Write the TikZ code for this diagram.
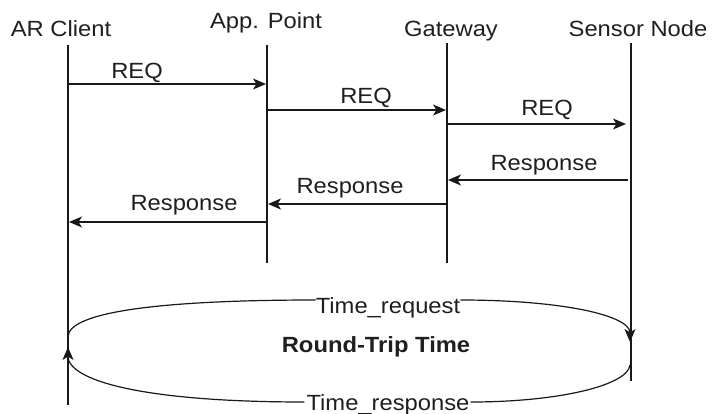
\documentclass[tikz,border=0pt]{standalone}
\usepackage{fontspec}
\setmainfont[FakeStretch=1.08]{Liberation Sans}
\usetikzlibrary{arrows.meta,calc}
\begin{document}
\begin{tikzpicture}[x=1pt,y=-1pt,
  lbl/.style={font=\fontsize{22}{26}\selectfont, text=black!88, inner sep=0pt, anchor=base},
  life/.style={line width=1.4pt, black!90},
  tip/.style={-{Stealth[length=13pt,width=11pt,inset=3.5pt]}},
  msg/.style={line width=1.4pt, black!90, tip},
  loop/.style={line width=1.2pt, black!90},
]
\useasboundingbox (0,0) rectangle (712,414);
\fill[white] (0,0) rectangle (712,414);

% participants
\node[lbl] (ar) at (61,37) {AR Client};
\node[lbl] (ap) at (266,29) {App. Point};
\node[lbl] (gw) at (451,37) {Gateway};
\node[lbl] (sn) at (638,37) {Sensor Node};

% lifelines
\coordinate (arT) at (68,45);  \coordinate (arB) at (68,405);
\coordinate (apT) at (267,45); \coordinate (apB) at (267,263);
\coordinate (gwT) at (447,43); \coordinate (gwB) at (447,263);
\coordinate (snT) at (631,43); \coordinate (snB) at (631,381);
\draw[life] (arT) -- (arB);
\draw[life] (apT) -- (apB);
\draw[life] (gwT) -- (gwB);
\draw[life] (snT) -- (snB);

% requests
\coordinate (q1a) at (68,84);   \coordinate (q1b) at (266,84);
\coordinate (q2a) at (267,110); \coordinate (q2b) at (446,110);
\coordinate (q3a) at (447,124); \coordinate (q3b) at (626,124);
\draw[msg] (q1a) -- (q1b);
\draw[msg] (q2a) -- (q2b);
\draw[msg] (q3a) -- (q3b);
\node[lbl] (lq1) at (137,79) {REQ};
\node[lbl] (lq2) at (366,104) {REQ};
\node[lbl] (lq3) at (547,116) {REQ};

% responses
\coordinate (r1a) at (628,180); \coordinate (r1b) at (448,180);
\coordinate (r2a) at (447,204); \coordinate (r2b) at (268,204);
\coordinate (r3a) at (267,222); \coordinate (r3b) at (69,222);
\draw[msg] (r1a) -- (r1b);
\draw[msg] (r2a) -- (r2b);
\draw[msg] (r3a) -- (r3b);
\node[lbl] (lr1) at (544,171) {Response};
\node[lbl] (lr2) at (350,194) {Response};
\node[lbl] (lr3) at (184,211) {Response};

% round-trip loop
\node[lbl] (treq) at (388,313) {Time\_request};
\node[lbl, font=\fontsize{22}{26}\selectfont\bfseries] (rtt) at (376,352) {Round-Trip Time};
\node[lbl] (tres) at (388,410) {Time\_response};

\coordinate (ul) at (68,337);
\coordinate (ur) at (630,342);
\coordinate (lr) at (630,365);
\coordinate (ll) at (68,347);
\coordinate (tqw) at ($(treq.base west)+(0,-13)$);
\coordinate (tqe) at ($(treq.base east)+(0,-13)$);
\coordinate (trw) at ($(tres.base west)+(-2,-8)$);
\coordinate (tre) at ($(tres.base east)+(1,-8)$);

\draw[loop] (ul) .. controls (68,312) and (160,300) .. (tqw);
\draw[loop, tip] (tqe) .. controls (560,300) and (630,315) .. (ur);
\draw[loop] (lr) .. controls (628,385) and (560,402) .. (tre);
\draw[loop, tip] (trw) .. controls (140,402) and (68,380) .. (ll);
\end{tikzpicture}
\end{document}
